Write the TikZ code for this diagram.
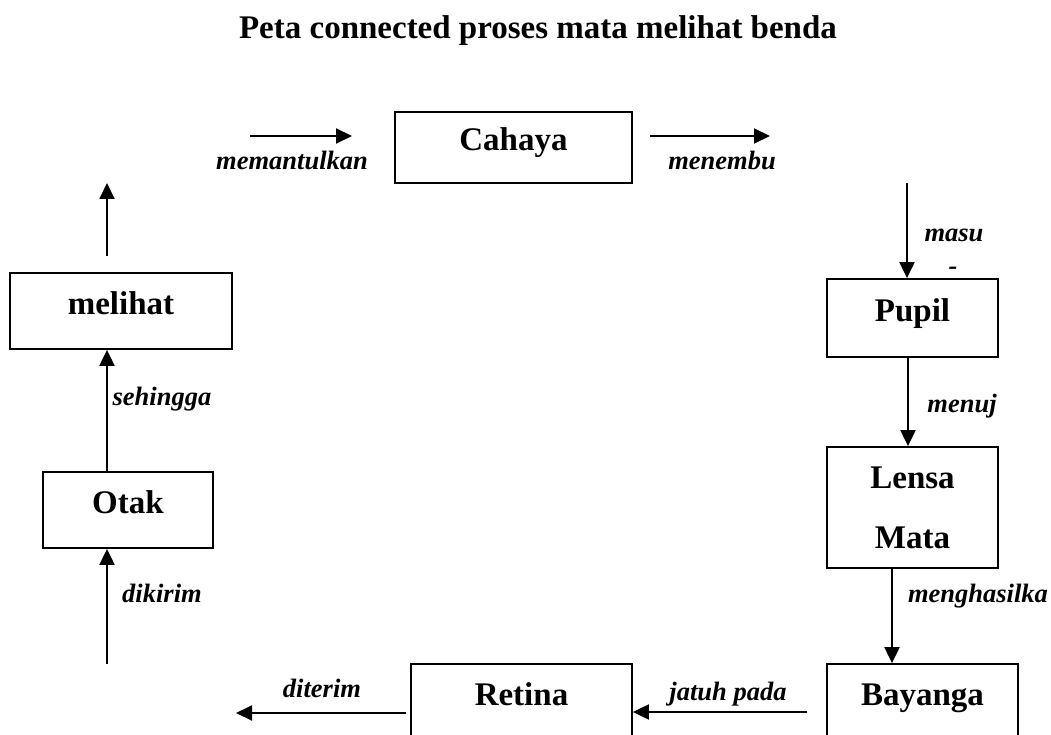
\documentclass[tikz,border=0pt]{standalone}
\usepackage{fontspec}
\setmainfont{Liberation Serif}
\usetikzlibrary{arrows.meta}
\tikzset{
  boxbase/.style={draw, line width=1.8pt, inner sep=0pt, font=\fontsize{33}{60}\selectfont\bfseries},
  box/.style={boxbase, text height=21pt, text depth=14pt},
  lbl/.style={anchor=base, inner sep=0pt, font=\fontsize{26.5}{30}\selectfont\bfseries\itshape},
  arr/.style={line width=2pt, -{Triangle[length=16pt,width=15pt]}}
}
\begin{document}
\begin{tikzpicture}[x=1pt,y=-1pt]
                        \useasboundingbox (0,0) rectangle (1051,735);
                        
                        % Marking title
                        \node [anchor=base, inner sep=0pt, font=\fontsize{33}{40}\selectfont\bfseries] (title) at (538,39) {Peta connected proses mata melihat benda};%
                        
                        % Drawing box Cahaya
                        \node [box, minimum width=237pt, minimum height=71pt] (cahaya) at (513.5,147.5) {Cahaya};%
                        
                        % Drawing box melihat
                        \node [box, minimum width=222pt, minimum height=76pt] (melihat) at (121,311) {melihat};%
                        
                        % Drawing box Pupil
                        \node [box, minimum width=171pt, minimum height=78pt] (pupil) at (912.5,318) {Pupil};%
                        
                        % Drawing box Lensa Mata
                        \node [boxbase, align=center, minimum width=171pt, minimum height=121pt] (lensa) at (912.5,507.5) {Lensa\\Mata};%
                        
                        % Drawing box Otak
                        \node [box, minimum width=170pt, minimum height=76pt] (otak) at (128,510) {Otak};%
                        
                        % Drawing box Retina
                        \node [box, minimum width=221pt, minimum height=76pt] (retina) at (521.5,702) {Retina};%
                        
                        % Drawing box Bayanga
                        \node [box, minimum width=191pt, minimum height=76pt] (bayanga) at (922.5,702) {Bayanga};%
                        
                        % Free ends of the arrows
                        \coordinate (p1) at (250,136);%
                        \coordinate (p2) at (352,136);%
                        \coordinate (q1) at (650,136);%
                        \coordinate (q2) at (770,136);%
                        \coordinate (r1) at (907,183);%
                        \coordinate (j1) at (807,712);%
                        \coordinate (d1) at (406,713);%
                        \coordinate (d2) at (236,713);%
                        \coordinate (k1) at (107,664);%
                        \coordinate (u1) at (107,256);%
                        \coordinate (u2) at (107,183);%
                        
                        % Drawing arrow memantulkan
                        \draw [arr] (p1) -- (p2);%
                        \node [lbl] (lmemantulkan) at (292,170) {memantulkan};%
                        
                        % Drawing arrow menembu
                        \draw [arr] (q1) -- (q2);%
                        \node [lbl] (lmenembu) at (722,170) {menembu};%
                        
                        % Drawing arrow masu
                        \draw [arr] (r1) -- (r1 |- pupil.north);%
                        \node [lbl] (lmasu) at (954,242) {masu};%
                        \node [lbl] (ldash) at (953,274) {-};%
                        
                        % Drawing arrow menuj
                        \draw [arr] ([xshift=-4.5pt]pupil.south) -- ([xshift=-4.5pt]lensa.north);%
                        \node [lbl] (lmenuj) at (962,412) {menuj};%
                        
                        % Drawing arrow menghasilka
                        \draw [arr] ([xshift=-20.5pt]lensa.south) -- ([xshift=-20.5pt]lensa.south |- bayanga.north);%
                        \node [lbl] (lmenghasilka) at (978,602) {menghasilka};%
                        
                        % Drawing arrow jatuh pada
                        \draw [arr] (j1) -- (j1 -| retina.east);%
                        \node [lbl] (ljatuh) at (728,700) {jatuh pada};%
                        
                        % Drawing arrow diterim
                        \draw [arr] (d1) -- (d2);%
                        \node [lbl] (lditerim) at (322,697) {diterim};%
                        
                        % Drawing arrow dikirim
                        \draw [arr] (k1) -- (k1 |- otak.south);%
                        \node [lbl] (ldikirim) at (162,602) {dikirim};%
                        
                        % Drawing arrow sehingga
                        \draw [arr] (k1 |- otak.north) -- (k1 |- melihat.south);%
                        \node [lbl] (lsehingga) at (162,405) {sehingga};%
                        
                        % Drawing arrow above melihat
                        \draw [arr] (u1) -- (u2);%
\end{tikzpicture}
\end{document}
